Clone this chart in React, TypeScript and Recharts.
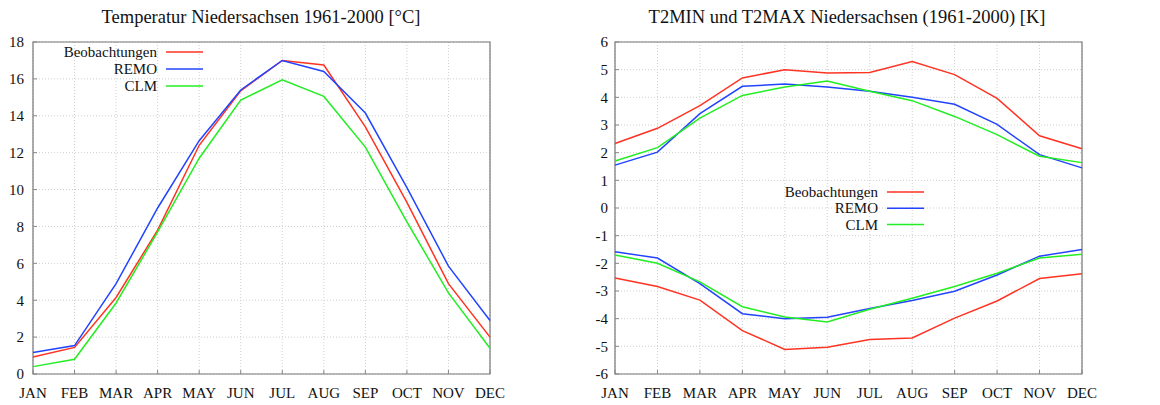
import { CartesianGrid, Line, LineChart, ReferenceArea, XAxis, YAxis } from "recharts";

const months = ["JAN", "FEB", "MAR", "APR", "MAY", "JUN", "JUL", "AUG", "SEP", "OCT", "NOV", "DEC"];

// Temperatur (Mittel) [°C]
const obsMean = [0.92, 1.44, 4.15, 7.8, 12.4, 15.35, 17.0, 16.75, 13.4, 9.3, 4.9, 2.0];
const remoMean = [1.17, 1.54, 4.9, 9.0, 12.65, 15.4, 17.0, 16.4, 14.15, 10.1, 5.85, 2.9];
const clmMean = [0.4, 0.8, 3.85, 7.7, 11.7, 14.85, 15.95, 15.05, 12.3, 8.25, 4.4, 1.4];

// T2MAX / T2MIN [K]
const obsMax = [2.33, 2.88, 3.7, 4.7, 5.0, 4.88, 4.9, 5.29, 4.82, 3.96, 2.61, 2.14];
const remoMax = [1.55, 2.02, 3.41, 4.4, 4.48, 4.37, 4.22, 4.0, 3.75, 3.02, 1.93, 1.45];
const clmMax = [1.7, 2.18, 3.25, 4.07, 4.37, 4.59, 4.22, 3.88, 3.31, 2.65, 1.87, 1.64];
const obsMin = [-2.53, -2.84, -3.33, -4.43, -5.11, -5.03, -4.75, -4.7, -3.98, -3.36, -2.55, -2.38];
const remoMin = [-1.58, -1.81, -2.73, -3.82, -4.0, -3.95, -3.63, -3.34, -3.01, -2.42, -1.74, -1.5];
const clmMin = [-1.7, -2.0, -2.67, -3.57, -3.94, -4.12, -3.66, -3.26, -2.84, -2.36, -1.81, -1.67];

const leftTicks = [0, 2, 4, 6, 8, 10, 12, 14, 16, 18];
const rightTicks = [-6, -5, -4, -3, -2, -1, 0, 1, 2, 3, 4, 5, 6];

const seriesNames = ["Beobachtungen", "REMO", "CLM"];
const colors = ["#ff3322", "#2244ff", "#22ee22"];

const font = "'Liberation Serif', 'DejaVu Serif', serif";

const meanData = months.map((m, i) => ({ m, obs: obsMean[i], remo: remoMean[i], clm: clmMean[i] }));
const minMaxData = months.map((m, i) => ({
  m,
  obsMax: obsMax[i],
  remoMax: remoMax[i],
  clmMax: clmMax[i],
  obsMin: obsMin[i],
  remoMin: remoMin[i],
  clmMin: clmMin[i],
}));

// gnuplot-style key: text right aligned, sample line to its right
function Key({ x, y, step }: { x: number; y: number; step: number }) {
  return (
    <g>
      {seriesNames.map((n, i) => (
        <g key={n}>
          <text
            x={x}
            y={y + i * step + 5}
            textAnchor="end"
            style={{ fontFamily: font, fontSize: 15, fill: "#111" }}
          >
            {n}
          </text>
          <line x1={x + 9} y1={y + i * step} x2={x + 46} y2={y + i * step} stroke={colors[i]} strokeWidth={1.5} />
        </g>
      ))}
    </g>
  );
}

const tickStyle = { fontFamily: font, fontSize: 15, fill: "#111" };
const titleStyle = { fontFamily: font, fontSize: 18.5, fill: "#111" };
const tickLine = { stroke: "#888" };

export default function App() {
  return (
    <div style={{ position: "absolute", left: 0, top: 0, width: 1160, height: 405, background: "#fff" }}>
      <div style={{ position: "absolute", left: 0, top: 0 }}>
        <LineChart width={580} height={405} data={meanData} margin={{ top: 42, right: 90, left: 3, bottom: 6 }}>
          <text x={261} y={23} textAnchor="middle" style={titleStyle}>
            Temperatur Niedersachsen 1961-2000 [°C]
          </text>
          <CartesianGrid stroke="#cfcfcf" strokeDasharray="1 2" />
          <XAxis
            dataKey="m"
            interval={0}
            height={25}
            tickLine={tickLine}
            axisLine={false}
            tickSize={-4}
            tickMargin={17}
            tick={tickStyle}
          />
          <YAxis
            domain={[0, 18]}
            ticks={leftTicks}
            width={30}
            tickLine={tickLine}
            axisLine={false}
            tickSize={-4}
            tickMargin={13}
            tick={tickStyle}
            interval={0}
          />
          <ReferenceArea x1="JAN" x2="DEC" y1={0} y2={18} fill="none" stroke="#777" strokeWidth={1.2} />
          <Line dataKey="obs" stroke={colors[0]} strokeWidth={1.5} dot={false} isAnimationActive={false} />
          <Line dataKey="remo" stroke={colors[1]} strokeWidth={1.5} dot={false} isAnimationActive={false} />
          <Line dataKey="clm" stroke={colors[2]} strokeWidth={1.5} dot={false} isAnimationActive={false} />
          <Key x={157} y={52} step={17} />
        </LineChart>
      </div>
      <div style={{ position: "absolute", left: 580, top: 0 }}>
        <LineChart width={580} height={405} data={minMaxData} margin={{ top: 42, right: 78, left: 5, bottom: 6 }}>
          <text x={267} y={23} textAnchor="middle" style={titleStyle}>
            T2MIN und T2MAX Niedersachsen (1961-2000) [K]
          </text>
          <CartesianGrid stroke="#cfcfcf" strokeDasharray="1 2" />
          <XAxis
            dataKey="m"
            interval={0}
            height={25}
            tickLine={tickLine}
            axisLine={false}
            tickSize={-4}
            tickMargin={17}
            tick={tickStyle}
          />
          <YAxis
            domain={[-6, 6]}
            ticks={rightTicks}
            width={30}
            tickLine={tickLine}
            axisLine={false}
            tickSize={-4}
            tickMargin={11}
            tick={tickStyle}
            interval={0}
          />
          <ReferenceArea x1="JAN" x2="DEC" y1={-6} y2={6} fill="none" stroke="#777" strokeWidth={1.2} />
          <Line dataKey="obsMax" stroke={colors[0]} strokeWidth={1.5} dot={false} isAnimationActive={false} />
          <Line dataKey="remoMax" stroke={colors[1]} strokeWidth={1.5} dot={false} isAnimationActive={false} />
          <Line dataKey="clmMax" stroke={colors[2]} strokeWidth={1.5} dot={false} isAnimationActive={false} />
          <Line dataKey="obsMin" stroke={colors[0]} strokeWidth={1.5} dot={false} isAnimationActive={false} />
          <Line dataKey="remoMin" stroke={colors[1]} strokeWidth={1.5} dot={false} isAnimationActive={false} />
          <Line dataKey="clmMin" stroke={colors[2]} strokeWidth={1.5} dot={false} isAnimationActive={false} />
          <Key x={298} y={192} step={16.3} />
        </LineChart>
      </div>
    </div>
  );
}
